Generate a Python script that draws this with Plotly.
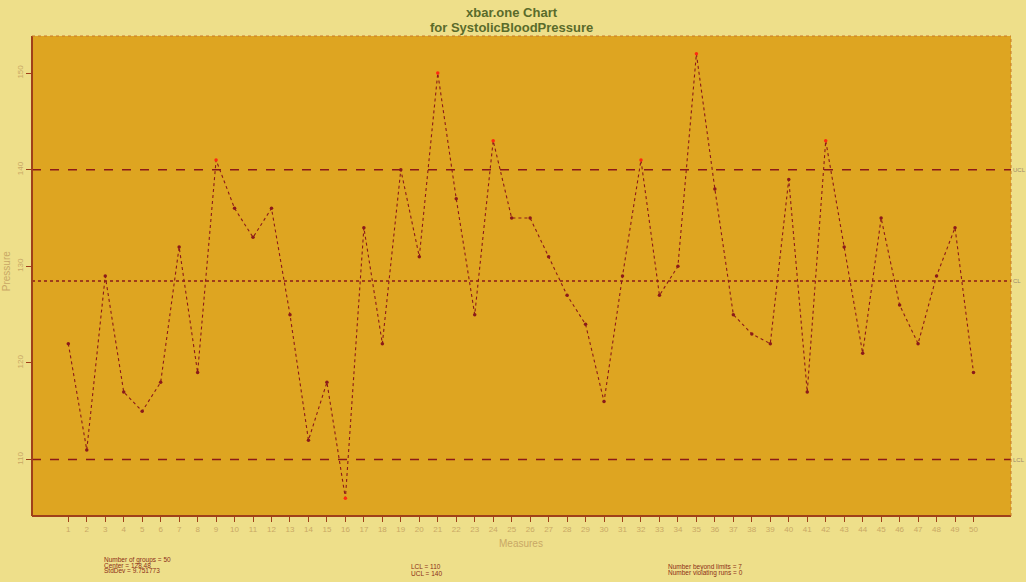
import plotly.graph_objects as go

# Systolic blood pressure, one measurement per group
measures = list(range(1, 51))
pressure = [122, 111, 129, 117, 115, 118, 132, 119, 141, 136,
            133, 136, 125, 112, 118, 106, 134, 122, 140, 131,
            150, 137, 125, 143, 135, 135, 131, 127, 124, 116,
            129, 141, 127, 130, 152, 138, 125, 123, 122, 139,
            117, 143, 132, 121, 135, 126, 122, 129, 134, 119]

lcl = 110
ucl = 140
center = sum(pressure) / len(pressure)
stddev_text = "9.751773"
y_ticks = [110, 120, 130, 140, 150]

paper_bg = "#EEDF8A"
plot_bg = "#DEA521"
line_col = "#8B1A1A"
beyond_col = "#FF2A10"
tick_text_col = "#C9A865"
info_col = "#8B2E16"

marker_colors = [beyond_col if (v > ucl or v < lcl) else line_col for v in pressure]
n_beyond = sum(1 for v in pressure if v > ucl or v < lcl)

fig = go.Figure()

fig.add_trace(go.Scatter(
    x=measures, y=pressure, mode="lines+markers",
    line=dict(color=line_col, width=1.1, dash="dot"),
    marker=dict(color=marker_colors, size=3.5, symbol="circle"),
    hoverinfo="x+y", showlegend=False,
))

x_lo, x_hi = -0.965, 52.03
y_lo, y_hi = 104.16, 153.84

# control limits and center line
for val, dash in [(ucl, "dash"), (lcl, "dash"), (center, "dot")]:
    fig.add_shape(type="line", xref="paper", yref="y", x0=0, x1=1, y0=val, y1=val,
                  line=dict(color=line_col, width=1.4, dash=dash))

for val, lab in [(ucl, "UCL"), (center, "CL"), (lcl, "LCL")]:
    fig.add_annotation(xref="paper", yref="y", x=1.0, y=val, text=lab, showarrow=False,
                       xanchor="left", yanchor="middle", xshift=0,
                       font=dict(size=6, color="#9A8A6A", family="Liberation Sans"))

# plot frame: solid left/bottom, dotted top/right
fig.add_shape(type="line", xref="paper", yref="paper", x0=0, x1=0, y0=0, y1=1,
              line=dict(color="#A0401A", width=2))
fig.add_shape(type="line", xref="paper", yref="paper", x0=0, x1=1, y0=0, y1=0,
              line=dict(color="#A0401A", width=2))
fig.add_shape(type="line", xref="paper", yref="paper", x0=0, x1=1, y0=1, y1=1,
              line=dict(color="#C8782A", width=1, dash="dot"))
fig.add_shape(type="line", xref="paper", yref="paper", x0=1, x1=1, y0=0, y1=1,
              line=dict(color="#C8782A", width=1, dash="dot"))

# titles
title_font = dict(size=13, color="#5A6B2A", family="Liberation Sans")
fig.add_annotation(xref="paper", yref="paper", x=0.49, y=1.0, yanchor="middle", yshift=24,
                   text="<b>xbar.one Chart</b>", showarrow=False, font=title_font)
fig.add_annotation(xref="paper", yref="paper", x=0.49, y=1.0, yanchor="middle", yshift=9,
                   text="<b>for SystolicBloodPressure</b>", showarrow=False, font=title_font)

fig.add_annotation(xref="paper", yref="paper", x=0.499, y=0, yanchor="middle", yshift=-27,
                   text="Measures", showarrow=False,
                   font=dict(size=10, color=tick_text_col, family="Liberation Sans"))
fig.add_annotation(xref="paper", yref="paper", x=0, y=0.51, xanchor="center", xshift=-26,
                   text="Pressure", textangle=-90, showarrow=False,
                   font=dict(size=10, color=tick_text_col, family="Liberation Sans"))

# summary statistics
info_font = dict(size=6.5, color=info_col, family="Liberation Sans")
left_lines = [f"Number of groups = {len(pressure)}", f"Center = {center:.2f}", f"StdDev = {stddev_text}"]
for i, t in enumerate(left_lines):
    fig.add_annotation(xref="paper", yref="paper", x=(102 - 32) / 979, y=0, yanchor="middle",
                       yshift=-43.7 - 5.4 * i, text=t, showarrow=False, xanchor="left", font=info_font)
for i, t in enumerate([f"LCL = {lcl}", f"UCL = {ucl}"]):
    fig.add_annotation(xref="paper", yref="paper", x=(409 - 32) / 979, y=0, yanchor="middle",
                       yshift=-50.5 - 6.5 * i, text=t, showarrow=False, xanchor="left", font=info_font)
for i, t in enumerate([f"Number beyond limits = {n_beyond}", "Number violating runs = 0"]):
    fig.add_annotation(xref="paper", yref="paper", x=(666 - 32) / 979, y=0, yanchor="middle",
                       yshift=-51 - 6 * i, text=t, showarrow=False, xanchor="left", font=info_font)

fig.update_layout(
    width=1026, height=582,
    paper_bgcolor=paper_bg, plot_bgcolor=plot_bg,
    margin=dict(l=32, r=15, t=36, b=66),
    font=dict(family="Liberation Sans"),
    xaxis=dict(range=[x_lo, x_hi], tickmode="array", tickvals=measures,
               ticktext=[str(m) for m in measures], showgrid=False, zeroline=False,
               ticks="outside", ticklen=5, tickcolor="#A0401A", tickwidth=1,
               tickfont=dict(size=8, color=tick_text_col)),
    yaxis=dict(range=[y_lo, y_hi], tickmode="array", tickvals=y_ticks, showgrid=False,
               zeroline=False, ticks="outside", ticklen=5, tickcolor="#A0401A", tickwidth=1,
               tickangle=-90, tickfont=dict(size=8, color=tick_text_col)),
)

fig.write_html("out.html")
